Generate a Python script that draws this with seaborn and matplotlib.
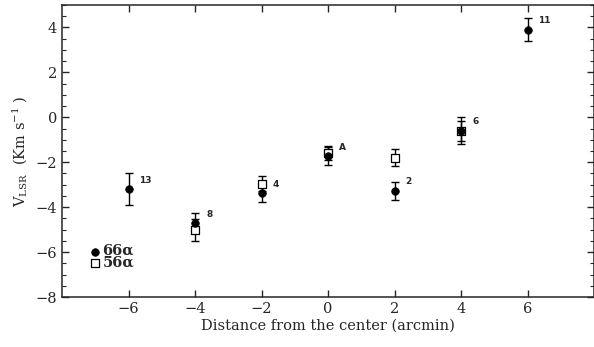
import numpy as np
import pandas as pd
import matplotlib
matplotlib.use("Agg")
import matplotlib.pyplot as plt
import seaborn as sns
from matplotlib.ticker import MultipleLocator, FixedLocator

# ---- data ----
x_66 = [-6, -4, -2, 0, 2, 4, 6]
v_66 = [-3.2, -4.72, -3.38, -1.74, -3.26, -0.6, 3.9]
e_66 = [0.71, 0.45, 0.4, 0.4, 0.4, 0.45, 0.5]
x_56 = [-4, -2, 0, 2, 4]
v_56 = [-5.02, -2.96, -1.6, -1.8, -0.6]
e_56 = [0.5, 0.33, 0.31, 0.38, 0.6]
point_labels = ["13", "8", "4", "A", "2", "6", "11"]
legend_x = -7.0
legend_y = [-6.0, -6.5]
legend_labels = ["66α", "56α"]
x_ticks = [-6, -4, -2, 0, 2, 4, 6]

sns.set_style("ticks")
plt.rcParams['font.family'] = ['DejaVu Serif', 'DejaVu Sans']
plt.rcParams['mathtext.fontset'] = 'dejavuserif'

fig = plt.figure(figsize=(5.94, 3.47), dpi=100)
ax = fig.add_axes([0.1044, 0.144, 0.8956, 0.8416])

df66 = pd.DataFrame({"x": x_66, "v": v_66, "e": e_66})
df56 = pd.DataFrame({"x": x_56, "v": v_56, "e": e_56})

ax.errorbar(df56["x"], df56["v"], yerr=df56["e"], fmt="none", ecolor="black",
            elinewidth=1.0, capsize=3, capthick=1.0, zorder=2)
ax.errorbar(df66["x"], df66["v"], yerr=df66["e"], fmt="none", ecolor="black",
            elinewidth=1.0, capsize=3, capthick=1.0, zorder=2)
sns.scatterplot(data=df56, x="x", y="v", marker="s", s=30, facecolor="white",
                edgecolor="black", linewidth=0.9, ax=ax, zorder=3)
sns.scatterplot(data=df66, x="x", y="v", marker="o", s=30, color="black",
                edgecolor="black", linewidth=0.5, ax=ax, zorder=4)

for xi, yi, lab in zip(x_66, v_66, point_labels):
    ax.annotate(lab, (xi, yi), xytext=(11, 9), textcoords="offset pixels",
                fontsize=6.5, fontweight="bold", ha="left", va="center",
                family="DejaVu Sans")

# manual legend
legend_df = pd.DataFrame({"x": [legend_x, legend_x], "v": legend_y})
sns.scatterplot(data=legend_df.iloc[[0]], x="x", y="v", marker="o", s=30,
                color="black", edgecolor="black", linewidth=0.5, ax=ax, zorder=4)
sns.scatterplot(data=legend_df.iloc[[1]], x="x", y="v", marker="s", s=30,
                facecolor="white", edgecolor="black", linewidth=0.9, ax=ax, zorder=4)
for yi, lab in zip(legend_y, legend_labels):
    ax.annotate(lab, (legend_x, yi), xytext=(7, 1), textcoords="offset pixels",
                fontsize=10.5, fontweight="bold", ha="left", va="center")

ax.set_xlim(-8, 8)
ax.set_ylim(-8, 5)
ax.xaxis.set_major_locator(FixedLocator(x_ticks))
ax.yaxis.set_major_locator(MultipleLocator(2))
ax.yaxis.set_minor_locator(MultipleLocator(0.5))
ax.tick_params(which="both", direction="in", top=True, right=True, labelsize=10.5)
ax.tick_params(which="major", length=5, width=1.0)
ax.tick_params(which="minor", length=3, width=0.8)
for sp in ax.spines.values():
    sp.set_linewidth(1.1)

ax.set_xlabel("Distance from the center (arcmin)", fontsize=10.5, labelpad=2)
ax.set_ylabel(r"V$_{\rm LSR}$  (Km s$^{-1}$ )", fontsize=10.5, labelpad=4)

fig.savefig("out.png", dpi=100)
